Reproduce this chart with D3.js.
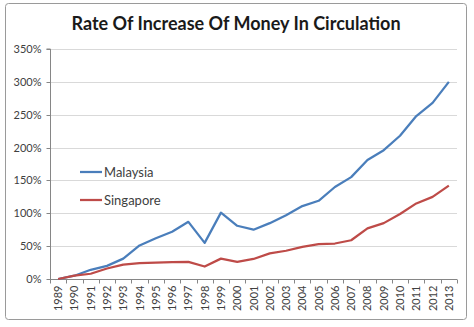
<!DOCTYPE html>
<html><head><meta charset="utf-8">
<script src="https://cdn.jsdelivr.net/npm/d3@7"></script>
<style>html,body{margin:0;padding:0;background:#fff;}svg{display:block;}</style>
</head><body>
<script>
const years = ["1989","1990","1991","1992","1993","1994","1995","1996","1997","1998","1999","2000","2001","2002","2003","2004","2005","2006","2007","2008","2009","2010","2011","2012","2013"];
const malaysia = [0,5,14,20,31,51,62,72,87,55,101,81,75,85,97,111,119,140,155,181,196,218,248,268,300];
const singapore = [0,5,8,16,22,24,25,25.5,26,19,31,26,30.5,39,43,49,53,54,59,77,85,99,115,125,142];
const yTicks = [0,50,100,150,200,250,300,350];
const seriesNames = ["Malaysia","Singapore"];
const colors = ["#4a7ebb","#be4b48"];

const W=474,H=327;
const svg=d3.select("body").append("svg").attr("width",W).attr("height",H);
svg.append("rect").attr("x",5.5).attr("y",3.5).attr("width",461).attr("height",316)
  .attr("rx",3).attr("fill","#fff").attr("stroke","#9a9a9a").attr("stroke-width",1);

const L=50,R=457,T=49,B=279;
const x=d3.scaleBand().domain(years).range([L,R]);
const y=d3.scaleLinear().domain([0,350]).range([B,T]);
const font="Lato, 'Open Sans', sans-serif";

svg.append("text").attr("x",236).attr("y",30).attr("text-anchor","middle")
  .attr("font-family",font).attr("font-size",18).attr("font-weight","bold").attr("fill","#1a1a1a")
  .text("Rate Of Increase Of Money In Circulation");

// gridlines
svg.append("g").selectAll("line").data(yTicks.slice(1)).join("line")
  .attr("x1",L).attr("x2",R).attr("y1",d=>Math.round(y(d))+0.5).attr("y2",d=>Math.round(y(d))+0.5)
  .attr("stroke","#d9d9d9").attr("stroke-width",1);

// y axis
const ya=svg.append("g").attr("transform",`translate(${L+0.5},0)`)
  .call(d3.axisLeft(y).tickValues(yTicks).tickFormat(d=>d+"%").tickSize(4).tickPadding(5));
ya.select(".domain").attr("stroke","#868686").attr("d",`M-4,${T}H0V${B}`);
ya.selectAll(".tick line").attr("stroke","#868686");
ya.selectAll(".tick text").attr("font-family",font).attr("font-size",11).attr("fill","#404040");
ya.selectAll(".tick").attr("transform",d=>`translate(0,${Math.round(y(d))+0.5})`);

// x axis
const xa=svg.append("g").attr("transform",`translate(0,${B+0.5})`);
xa.append("line").attr("x1",L).attr("x2",R).attr("stroke","#868686");
const bounds=years.map((d)=>x(d)).concat([R]);
xa.selectAll("line.t").data(bounds).join("line").attr("class","t")
  .attr("x1",d=>Math.round(d)+0.5).attr("x2",d=>Math.round(d)+0.5).attr("y1",0).attr("y2",4).attr("stroke","#868686");
xa.selectAll("text").data(years).join("text")
  .attr("transform",d=>`translate(${x(d)+x.bandwidth()/2+4},6) rotate(-90)`)
  .attr("text-anchor","end").attr("font-family",font).attr("font-size",11).attr("fill","#404040")
  .text(d=>d);

// lines
const line=d3.line().x((d,i)=>x(years[i])+x.bandwidth()/2).y(d=>y(d));
[malaysia,singapore].forEach((s,k)=>{
  svg.append("path").datum(s).attr("d",line).attr("fill","none")
    .attr("stroke",colors[k]).attr("stroke-width",2.25).attr("stroke-linejoin","round");
});

// legend
seriesNames.forEach((n,k)=>{
  const ly=172+k*28;
  svg.append("line").attr("x1",80).attr("x2",102).attr("y1",ly).attr("y2",ly)
    .attr("stroke",colors[k]).attr("stroke-width",2.25);
  svg.append("text").attr("x",104).attr("y",ly+4.5).attr("font-family",font).attr("font-size",13)
    .attr("fill","#404040").text(n);
});
</script>
</body></html>
